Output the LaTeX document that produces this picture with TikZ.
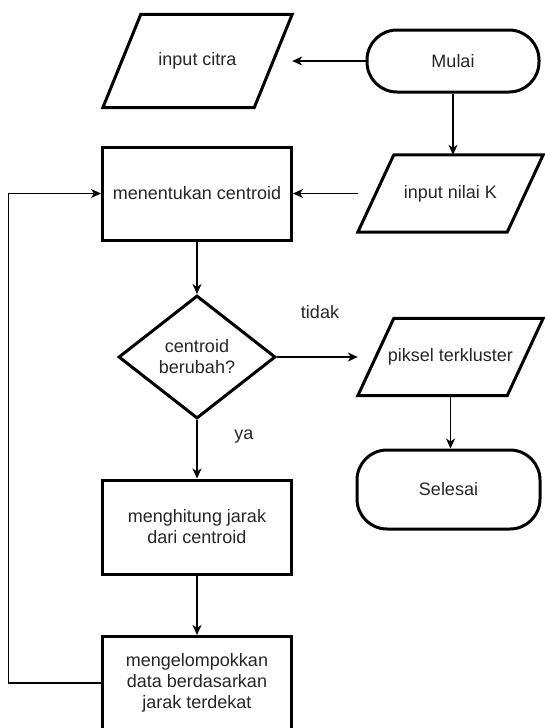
\documentclass[tikz,border=0pt]{standalone}
\usepackage{fontspec}
\setmainfont{Liberation Sans}
\usetikzlibrary{arrows.meta,shapes.geometric}

\begin{document}
\begin{tikzpicture}[x=1pt,y=-1pt,
                    every node/.style={font=\fontsize{18}{21}\selectfont,text=black!85},
                    process/.style={draw,line width=3pt,rectangle,minimum width=189pt,minimum height=93pt,align=center,inner sep=2pt},
                    io/.style={rectangle,minimum width=185pt,minimum height=77pt,align=center,inner sep=2pt},
                    terminal/.style={draw,line width=3pt,rectangle,rounded corners=30pt,minimum width=183pt,minimum height=79pt},
                    decision/.style={draw,line width=3pt,diamond,minimum width=157pt,minimum height=123pt,align=center,inner sep=0pt},
                    connector/.style={-{Stealth[length=10pt,width=9pt,inset=3pt]},line width=1.2pt}
]
\useasboundingbox (0,0) rectangle (545,728);

\node [terminal, minimum width=172pt, minimum height=62pt] at (453,61) (mulai) {Mulai};
\node [io, minimum width=189pt, minimum height=93pt] at (197.5,61) (citra) {input citra};
\node [io] at (450.5,193.5) (nilaik) {input nilai K};
\node [process] at (197,193.5) (centroid) {menentukan centroid};
\node [decision] at (197,357) (ubah) {centroid\\berubah?};
\node [io] at (450.5,357) (piksel) {piksel terkluster};
\node [terminal] at (448.5,489.5) (selesai) {Selesai};
\node [process, minimum height=94pt] at (197,527) (jarak) {menghitung jarak\\dari centroid};
\node [process] at (197,683) (kelompok) {mengelompokkan\\data berdasarkan\\jarak terdekat};
% parallelogram outlines of the input/output nodes
\foreach \n/\s in {citra/38,nilaik/36,piksel/36}
  \draw[line width=3pt] ([xshift=\s pt]\n.north west) -- (\n.north east) -- ([xshift=-\s pt]\n.south east) -- (\n.south west) -- cycle;
%
\node at (320,312) (tidak) {tidak};
\node at (244,437) (ya) {ya};
%
\draw[connector] (mulai.west) -- (citra.east);
\draw[connector] (mulai.south) -- (mulai.south |- nilaik.north);
\draw[connector] (nilaik.west) -- (centroid.east);
\draw[connector] (centroid) -- (ubah);
%
\draw[connector] (ubah.east) -- (piksel.west);
\draw[connector] (piksel.south) -- (piksel.south |- selesai.north);
\draw[connector] (ubah) -- (jarak);
\draw[connector] (jarak) -- (kelompok);
\draw[connector] (kelompok.west) -- ++(-92.5,0) |- (centroid.west);
\end{tikzpicture}
\end{document}
